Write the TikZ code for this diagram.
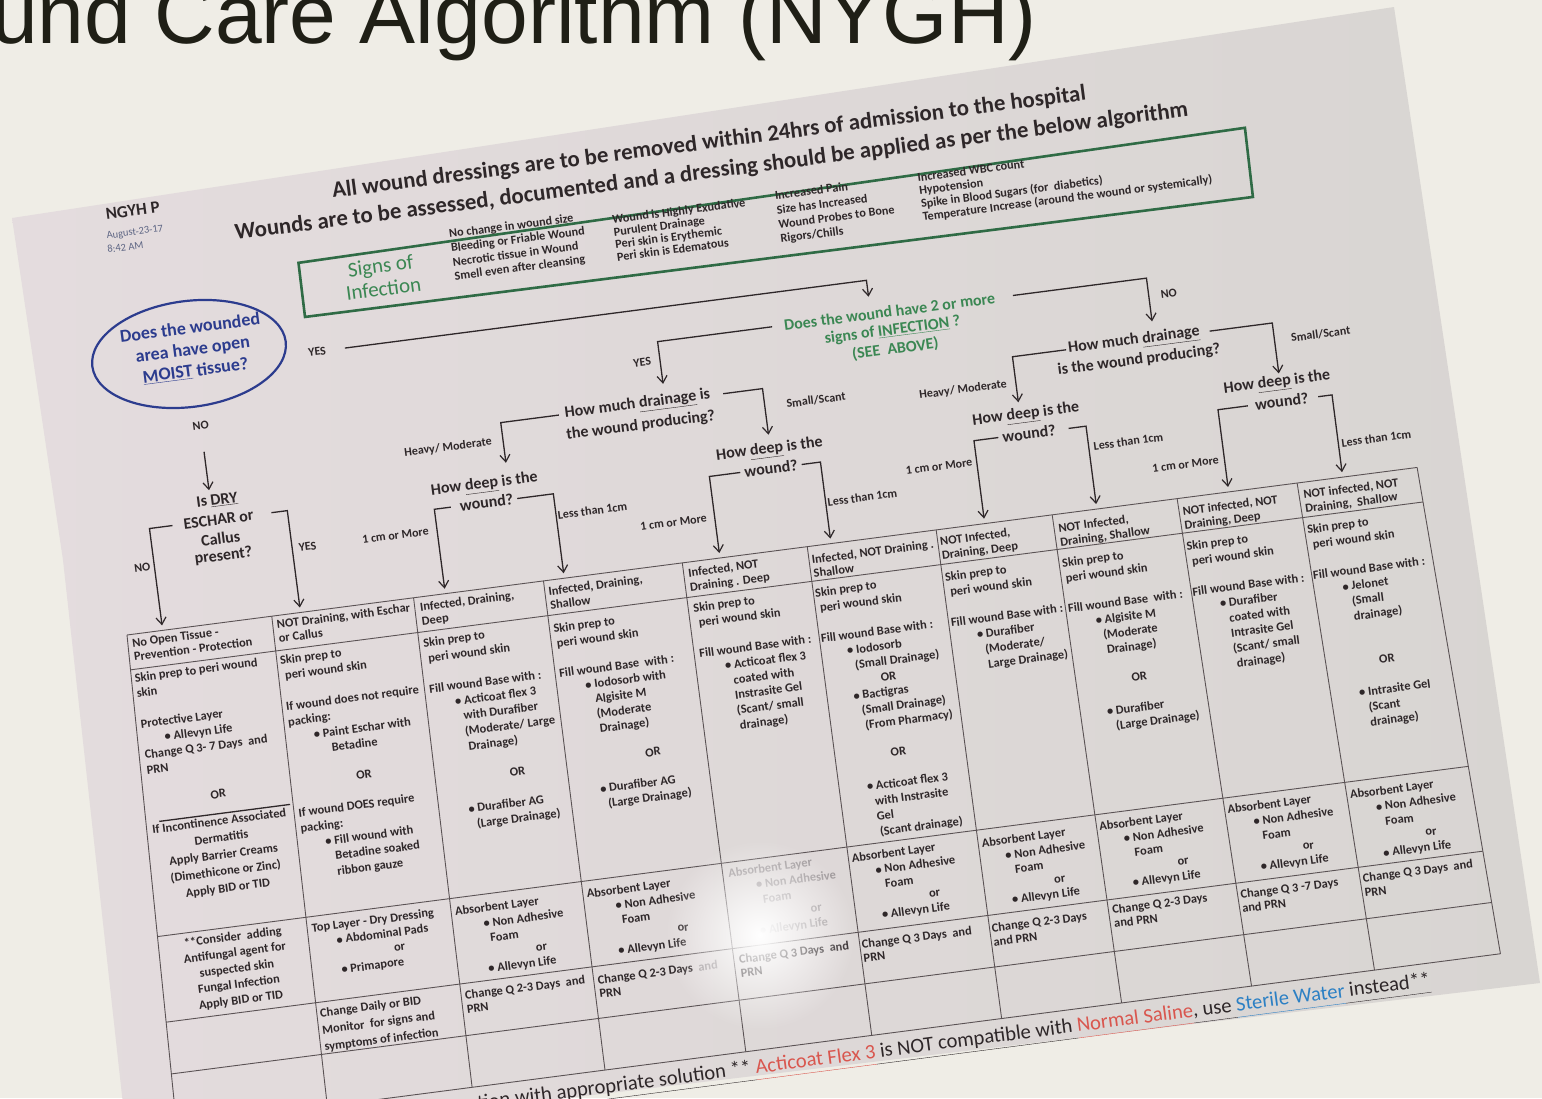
\documentclass[tikz,border=0pt]{standalone}
\usepackage{fontspec}
\usetikzlibrary{arrows.meta,shapes.geometric,fadings}
\tikzfading[name=glarefade, inner color=transparent!0, outer color=transparent!100]
\newfontfamily\carl{Carlito}
\newfontfamily\ttlfont{Liberation Sans}
\definecolor{bgc}{HTML}{EFEDE6}
\definecolor{paperl}{HTML}{E4DCDE}
\definecolor{paperm}{HTML}{EDEBEA}
\definecolor{paperr}{HTML}{D8D5D2}
\definecolor{ink}{HTML}{2E2729}
\definecolor{gridc}{HTML}{5A5254}
\definecolor{grn}{HTML}{2F6B45}
\definecolor{grntxt}{HTML}{3B8753}
\definecolor{ovalblue}{HTML}{2C3C8E}
\definecolor{fred}{HTML}{D9564E}
\definecolor{fblue}{HTML}{2C80C4}
\definecolor{faded}{HTML}{A09A9C}
\definecolor{datec}{HTML}{5E6684}
\definecolor{titlec}{HTML}{1F1F16}
\newcommand\ustrut{\rule[-4.8pt]{0pt}{1pt}}
\begin{document}
\begin{tikzpicture}[x=1pt,y=-1pt,
  tcell/.style={anchor=north west, inner sep=0pt, align=left, text=ink, font=\carl\bfseries\fontsize{12.4}{#1}\selectfont},
  tcell/.default=15.3,
  tcellm/.style={anchor=north, inner sep=0pt, align=center, text=ink, font=\carl\bfseries\fontsize{12.4}{#1}\selectfont},
  tcellc/.style={inner sep=0pt, text=ink, font=\carl\bfseries\fontsize{12.4}{14}\selectfont},
  lbl/.style={inner sep=0pt, text=ink, font=\carl\bfseries\fontsize{12}{14}\selectfont},
  dq/.style={inner sep=0pt, text=ink, font=\carl\bfseries\fontsize{16}{19}\selectfont},
  gq/.style={inner sep=0pt, text=grntxt, font=\carl\bfseries\fontsize{16}{19}\selectfont},
  hdr/.style={inner sep=0pt, text=ink, font=\carl\bfseries\fontsize{22.8}{26}\selectfont},
  sg/.style={anchor=north west, inner sep=0pt, align=left, text=ink, font=\carl\bfseries\fontsize{12.2}{#1}\selectfont},
  conn/.style={draw=ink, line width=1.3pt, -{Straight Barb[length=7pt,width=10pt,line width=1.2pt]}},
  tbl/.style={draw=gridc, line width=0.9pt}
]
\useasboundingbox (0,0) rectangle (1542,1098);
\clip (0,0) rectangle (1542,1098);
\fill[bgc] (0,0) rectangle (1542,1098);
% paper sheet
\shade[left color=paperl, middle color=paperm, right color=paperr]
  (12,218) -- (1394,7) -- (1540,983) -- (128,1150) -- (63,560) -- cycle;
% slide title
\node[anchor=base west, inner sep=0pt, text=titlec, font=\ttlfont\fontsize{84}{90}\selectfont] (title) at (-9,43) {und Care Algorithm (NYGH)};

\begin{scope}[shift={(127,635)}, rotate=7.4, transform shape]
% ---------- header ----------
\node[hdr] (hd1) at (640.6,-413) {All wound dressings are to be removed within 24hrs of admission to the hospital};
\node[hdr] (hd2) at (639.3,-383.8) {Wounds are to be assessed, documented and a dressing should be applied as per the below algorithm};
\node[anchor=west, inner sep=0pt, text=ink, font=\carl\bfseries\fontsize{17}{19}\selectfont] (ngyh) at (33,-420) {NGYH P};
\node[anchor=west, inner sep=0pt, text=datec, font=\carl\fontsize{10.5}{12}\selectfont] (dt1) at (31,-398) {August-23-17};
\node[anchor=west, inner sep=0pt, text=datec, font=\carl\fontsize{10.5}{12}\selectfont] (dt2) at (30,-385) {8:42 AM};
% ---------- signs of infection box ----------
\draw[grn, line width=2.6pt] (218,-347) -- (1174,-359) -- (1173,-289.4) -- (217.5,-292.5) -- cycle;
\node[inner sep=0pt, align=center, text=grntxt, font=\carl\fontsize{21}{23}\selectfont] (signs) at (299,-322) {Signs of\\Infection};
\node[sg=14.2] (s1) at (371,-361) {No change in wound size\\Bleeding or Friable Wound\\Necrotic tissue in Wound\\Smell even after cleansing};
\node[sg=12.5] (s2) at (534.5,-354) {Wound is Highly Exudative\\Purulent Drainage\\Peri skin is Erythemic\\Peri skin is Edematous};
\node[sg=14.5] (s3) at (699,-357) {Increased Pain\\Size has Increased\\Wound Probes to Bone\\Rigors/Chills};
\node[sg=13.2] (s4) at (842.8,-356.5) {Increased WBC count\\Hypotension\\Spike in Blood Sugars (for~ diabetics)\\Temperature Increase (around the wound or systemically)};
% ---------- decision nodes ----------
\node[draw=ovalblue, line width=2.2pt, ellipse, minimum width=195pt, minimum height=106pt, inner sep=0pt] (oval) at (97.7,-270.7) {};
\node[inner sep=0pt, align=center, text=ovalblue, font=\carl\bfseries\fontsize{18}{21.5}\selectfont] (ovt) at (102,-274.5) {Does the wounded\\area have open\\\underline{MOIST} tissue?};
\node[gq] (q1) at (797.9,-222.6) {Does the wound have 2 or more};
\node[gq] (q2) at (798.4,-203.4) {signs of \underline{INFECTION} ?};
\node[gq] (q3) at (798.9,-184.6) {(SEE\ \ ABOVE)};
\node[dq] (dl1) at (536,-162.5) {How much \underline{drainage} is};
\node[dq] (dl2) at (536.5,-141.5) {the wound producing?};
\node[dq] (dr1) at (1036.5,-161.9) {How much \underline{drainage}};
\node[dq] (dr2) at (1039,-142.4) {is the wound producing?};
\node[dq] (h1a) at (373.8,-102.8) {How \underline{deep} is the};
\node[dq] (h1b) at (373.6,-85.1) {wound?};
\node[dq] (h2a) at (661,-100.7) {How \underline{deep} is the};
\node[dq] (h2b) at (660.1,-82.2) {wound?};
\node[dq] (h3a) at (919.8,-102.4) {How \underline{deep} is the};
\node[dq] (h3b) at (920.5,-83.6) {wound?};
\node[dq] (h4a) at (1173,-101.8) {How \underline{deep} is the};
\node[dq] (h4b) at (1175.1,-82.9) {wound?};
\node[dq] (es1) at (106.6,-121.8) {Is \underline{DRY}};
\node[dq] (es2) at (105.6,-102.7) {ESCHAR or};
\node[dq] (es3) at (105.3,-83.6) {Callus};
\node[dq] (es4) at (105.9,-65.9) {present?};
% ---------- labels ----------
\node[lbl] (yes0) at (225,-256.5) {YES};
\node[lbl] (no0) at (100,-198) {NO};
\node[lbl] (yes1) at (546,-204) {YES};
\node[lbl] (no1) at (1077,-204) {NO};
\node[lbl] (hm1) at (342.5,-144.6) {Heavy/ Moderate};
\node[lbl] (ss1) at (713.6,-144.3) {Small/Scant};
\node[lbl] (hm2) at (860.6,-135.3) {Heavy/ Moderate};
\node[lbl] (ss2) at (1222.5,-144.6) {Small/Scant};
\node[lbl] (cm1) at (279,-64) {1 cm or More};
\node[lbl] (lt1) at (477.6,-63.5) {Less than 1cm};
\node[lbl] (cm2) at (556.5,-41.2) {1 cm or More};
\node[lbl] (lt2) at (747,-41.7) {Less than 1cm};
\node[lbl] (cm3) at (827,-62.5) {1 cm or More};
\node[lbl] (lt3) at (1018,-63) {Less than 1cm};
\node[lbl] (cm4) at (1071.7,-33) {1 cm or More};
\node[lbl] (lt4) at (1264.2,-34.1) {Less than 1cm};
\node[lbl] (noE) at (23.8,-64.9) {NO};
\node[lbl] (yesE) at (190.4,-64.3) {YES};
% ---------- arrow tips ----------
\coordinate (tQ) at (779,-240);
\coordinate (tL) at (564,-180);
\coordinate (tR) at (1057,-179);
\coordinate (tNO) at (100,-133);
\coordinate (tA1) at (398,-122);
\coordinate (tA2) at (662,-116);
\coordinate (tA3) at (914,-116);
\coordinate (tA4) at (1176,-111);
\coordinate (tC1) at (36,-5);
\coordinate (tC2) at (175,-5);
\coordinate (tC3) at (321,-5);
\coordinate (tC4) at (441,-5);
\coordinate (tC5) at (598,-5);
\coordinate (tC6) at (710,-5);
\coordinate (tC7) at (865,-5);
\coordinate (tC8) at (978,-5);
\coordinate (tC9) at (1111,-5);
\coordinate (tC10) at (1226,-5);
% ---------- connectors ----------
\draw[conn] ([xshift=19pt]yes0.east) -| (tQ);
\draw[conn] ([yshift=-22pt]no0.south) -- (tNO);
\draw[conn] ([xshift=-12pt]q1.west) -| (tL);
\draw[conn] ([xshift=18pt]q1.east) -| (tR);
\draw[conn] ([xshift=-6pt]dl1.west) -| (tA1);
\draw[conn] ([xshift=13pt]dl1.east) -| (tA2);
\draw[conn] ([xshift=-2pt]dr1.west) -| (tA3);
\draw[conn] ([xshift=10pt]dr1.east) -| (tA4);
\draw[conn] ([xshift=-9pt]h1b.west) -| (tC3);
\draw[conn] ([xshift=4pt]h1b.east) -| (tC4);
\draw[conn] ([xshift=-4pt]h2b.west) -| (tC5);
\draw[conn] ([xshift=4pt]h2b.east) -| (tC6);
\draw[conn] ([xshift=-4pt]h3b.west) -| (tC7);
\draw[conn] ([xshift=13pt]h3b.east) -| (tC8);
\draw[conn] ([xshift=-7pt]h4b.west) -| (tC9);
\draw[conn] ([xshift=10pt]h4b.east) -| (tC10);
\draw[conn] ([xshift=-11pt]es2.west) -| (tC1);
\draw[conn] ([xshift=18pt]es2.east) -| (tC2);
% ---------- table grid ----------
\foreach \a/\b in {0/-14,146/138,289/284,420/418,560/560,686/687,816/818,933/939,1059/1070,1180/1194,1301/1321}
  \draw[tbl] (\a,0) -- (\b,493);
\foreach \yy/\l/\r in {0/0/1301,35/-1/1302.4,303/-8.6/1313.3,389/-11/1316.8,441/-12.5/1318.9,493/-14/1321}
  \draw[tbl] (\l,\yy) -- (\r,\yy);
\draw[ink, line width=1.3pt] (8,189) -- (140,189);
% ---------- C1 ----------
\node[tcell=14] (c1h) at (4,3.8) {No Open Tissue -\\Prevention - Protection};
\node[tcell=15.5] (c1b) at (2,38.9) {Skin prep to peri wound\\skin\\~\\Protective Layer\\\hspace*{22pt}• Allevyn Life\\Change Q 3- 7 Days~ and\\PRN};
\node[tcellc] (c1or) at (70,169.5) {OR};
\node[tcellm=16.8] (c1inc) at (67.5,191.6) {If Incontinence Associated\\Dermatitis\\Apply Barrier Creams\\(Dimethicone or Zinc)\\Apply BID or TID};
\node[tcellm=15.9] (c1r3) at (66,307.9) {**Consider~ adding\\Antifungal agent for\\suspected skin\\Fungal Infection\\Apply BID or TID};
% ---------- C2 ----------
\node[tcell=14] (c2h) at (149.8,4.4) {NOT Draining, with Eschar\\or Callus};
\node[tcell=15.5] (c2b) at (148.4,40.2) {Skin prep to\\\hspace*{3pt}peri wound skin\\~\\If wound does not require\\packing:\\\hspace*{24pt}• Paint Eschar with\\\hspace*{40pt}Betadine};
\node[tcellc] (c2or) at (217,169.3) {OR};
\node[tcell=15.7] (c2b2) at (147,193.9) {If wound DOES require\\packing:\\\hspace*{23pt}• Fill wound with\\\hspace*{31pt}Betadine soaked\\\hspace*{31pt}ribbon gauze};
\node[tcell=15] (c2r3) at (145.4,309.7) {Top Layer - Dry Dressing\\\hspace*{23pt}• Abdominal Pads\\\hspace*{79pt}or\\\hspace*{24pt}• Primapore};
\node[tcell=17] (c2r4) at (142.7,395.1) {Change Daily or BID\\Monitor~ for signs and\\symptoms of infection};
% ---------- C3 ----------
\node[tcell=14] (c3h) at (294,5.5) {Infected, Draining,\\Deep};
\node[tcell=15.5] (c3b) at (292.7,41.3) {Skin prep to\\\hspace*{3pt}peri wound skin\\~\\Fill wound Base with :\\\hspace*{24pt}• Acticoat flex 3\\\hspace*{30.5pt}with Durafiber\\\hspace*{30pt}(Moderate/ Large\\\hspace*{31.5pt}Drainage)\\~\\\hspace*{69pt}OR\\~\\\hspace*{23.4pt}• Durafiber AG\\\hspace*{30pt}(Large Drainage)};
\node[tcell=15.2] (c3r3) at (289.6,311.8) {Absorbent Layer\\\hspace*{26.7pt}• Non Adhesive\\\hspace*{31.5pt}Foam\\\hspace*{75.5pt}or\\\hspace*{25.7pt}• Allevyn Life};
\node[tcell=14] (c3r4) at (288.8,396) {Change Q 2-3 Days~ and\\PRN};
% ---------- C4 ----------
\node[tcell=14] (c4h) at (423.4,6.3) {Infected, Draining,\\Shallow};
\node[tcell=15] (c4b) at (423.6,43.9) {Skin prep to\\\hspace*{1.4pt}peri wound skin\\~\\Fill wound Base~ with :\\\hspace*{24.4pt}• Iodosorb with\\\hspace*{32.4pt}Algisite M\\\hspace*{32pt}(Moderate\\\hspace*{33pt}Drainage)\\~\\\hspace*{75pt}OR\\~\\\hspace*{25.7pt}• Durafiber AG\\\hspace*{31.8pt}(Large Drainage)};
\node[tcell=15.1] (c4r3) at (422.5,311.2) {Absorbent Layer\\\hspace*{27pt}• Non Adhesive\\\hspace*{31.5pt}Foam\\\hspace*{85.5pt}or\\\hspace*{24pt}• Allevyn Life};
\node[tcell=14] (c4r4) at (422.3,398) {Change Q 2-3 Days~ \textcolor{faded}{and}\\PRN};
% ---------- C5 ----------
\node[tcell=14] (c5h) at (564.5,6.1) {Infected, NOT\\Draining . Deep};
\node[tcell=15.3] (c5b) at (565,41.4) {Skin prep to\\\hspace*{3.4pt}peri wound skin\\~\\Fill wound Base with :\\\hspace*{24pt}• Acticoat flex 3\\\hspace*{30.7pt}coated with\\\hspace*{30pt}Instrasite Gel\\\hspace*{30pt}(Scant/ small\\\hspace*{31pt}drainage)};
\node[tcell=15.2, text=faded] (c5r3) at (565.6,308.7) {Absorbent Layer\\\hspace*{26pt}• Non Adhesive\\\hspace*{31pt}Foam\\\hspace*{77pt}or\\\hspace*{24pt}• Allevyn Life};
\node[tcell=14] (c5r4) at (565,396) {Change Q 3 Days~ and\\PRN};
% ---------- C6 ----------
\node[tcell=14] (c6h) at (688.7,8.8) {Infected, NOT Draining .\\Shallow};
\node[tcell=15.3] (c6b) at (687.7,42.2) {Skin prep to\\\hspace*{3pt}peri wound skin\\~\\Fill wound Base with :\\\hspace*{24.3pt}• Iodosorb\\\hspace*{30.4pt}(Small Drainage)\\\hspace*{54.3pt}OR\\\hspace*{24.7pt}• Bactigras\\\hspace*{31.2pt}(Small Drainage)\\\hspace*{32.6pt}(From Pharmacy)\\~\\\hspace*{54.3pt}OR\\~\\\hspace*{26.4pt}• Acticoat flex 3\\\hspace*{32.6pt}with Instrasite\\\hspace*{32.3pt}Gel\\\hspace*{33.6pt}(Scant drainage)};
\node[tcell=15] (c6r3) at (689.9,309.7) {Absorbent Layer\\\hspace*{21.9pt}• Non Adhesive\\\hspace*{29.7pt}Foam\\\hspace*{72pt}or\\\hspace*{22.7pt}• Allevyn Life};
\node[tcell=14] (c6r4) at (688.7,397) {Change Q 3 Days~ and\\PRN};
% ---------- C7 ----------
\node[tcell=14] (c7h) at (818.3,7.2) {NOT Infected,\\Draining, Deep};
\node[tcell=15.3] (c7b) at (818.6,43.2) {Skin prep to\\\hspace*{3.2pt}peri wound skin\\~\\Fill wound Base with :\\\hspace*{24.2pt}• Durafiber\\\hspace*{30.6pt}(Moderate/\\\hspace*{31.7pt}Large Drainage)};
\node[tcell=15] (c7r3) at (820.8,311.7) {Absorbent Layer\\\hspace*{21.8pt}• Non Adhesive\\\hspace*{29.7pt}Foam\\\hspace*{67pt}or\\\hspace*{22.7pt}• Allevyn Life};
\node[tcell=14] (c7r4) at (819.7,397.3) {Change Q 2-3 Days\\and PRN};
% ---------- C8 ----------
\node[tcell=14] (c8h) at (937.4,9.2) {NOT Infected,\\Draining, Shallow};
\node[tcell=15.3] (c8b) at (936.5,44.3) {Skin prep to\\\hspace*{1.7pt}peri wound skin\\~\\Fill wound Base~ with :\\\hspace*{25.9pt}• Algisite M\\\hspace*{31.5pt}(Moderate\\\hspace*{33.3pt}Drainage)\\~\\\hspace*{54pt}OR\\~\\\hspace*{25.3pt}• Durafiber\\\hspace*{32.6pt}(Large Drainage)};
\node[tcell=15] (c8r3) at (939.4,310.3) {Absorbent Layer\\\hspace*{22.8pt}• Non Adhesive\\\hspace*{31.8pt}Foam\\\hspace*{73pt}or\\\hspace*{25.9pt}• Allevyn Life};
\node[tcell=14] (c8r4) at (941.6,394.6) {Change Q 2-3 Days\\and PRN};
% ---------- C9 ----------
\node[tcell=14] (c9h) at (1062.8,8.7) {NOT infected, NOT\\Draining, Deep};
\node[tcell=15.3] (c9b) at (1062,43.9) {Skin prep to\\\hspace*{3.6pt}peri wound skin\\~\\Fill wound Base with :\\\hspace*{25.8pt}• Durafiber\\\hspace*{33.3pt}coated with\\\hspace*{33pt}Intrasite Gel\\\hspace*{32.9pt}(Scant/ small\\\hspace*{34.9pt}drainage)};
\node[tcell=15.2] (c9r3) at (1068.7,310.2) {Absorbent Layer\\\hspace*{24.3pt}• Non Adhesive\\\hspace*{31.3pt}Foam\\\hspace*{70pt}or\\\hspace*{25.6pt}• Allevyn Life};
\node[tcell=14] (c9r4) at (1070.6,396.2) {Change Q 3 -7 Days\\and PRN};
% ---------- C10 ----------
\node[tcell=14] (c10h) at (1184.6,7.7) {NOT infected, NOT\\Draining,~ Shallow};
\node[tcell=15.3] (c10b) at (1183.8,42.9) {Skin prep to\\\hspace*{3.6pt}peri wound skin\\~\\Fill wound Base with :\\\hspace*{27.6pt}• Jelonet\\\hspace*{35.2pt}(Small\\\hspace*{35.1pt}drainage)\\~\\~\\\hspace*{54.7pt}OR\\~\\\hspace*{30.5pt}• Intrasite Gel\\\hspace*{38.2pt}(Scant\\\hspace*{37.9pt}drainage)};
\node[tcell=15.5] (c10r3) at (1192.1,311.2) {Absorbent Layer\\\hspace*{24.2pt}• Non Adhesive\\\hspace*{31.7pt}Foam\\\hspace*{70pt}or\\\hspace*{25.6pt}• Allevyn Life};
\node[tcell=14.8] (c10r4) at (1194.2,395.5) {Change Q 3 Days~ and\\PRN};
% ---------- footer ----------
\node[anchor=base east, inner sep=0pt, text=ink, font=\carl\fontsize{20.6}{24}\selectfont] (foot) at (1248,516)
 {\underline{\ustrut tion with appropriate solution ** }\textcolor{fred}{\underline{\ustrut Acticoat Flex 3}}\underline{\ustrut\ is NOT compatible with }\textcolor{fred}{\underline{\ustrut Normal Saline}}\underline{\ustrut, use }\textcolor{fblue}{\underline{\ustrut Sterile Water}}\underline{\ustrut\ instead**}};
\end{scope}
% glare from the photo
\fill[white, path fading=glarefade] (760,935) circle (95);
\end{tikzpicture}
\end{document}
